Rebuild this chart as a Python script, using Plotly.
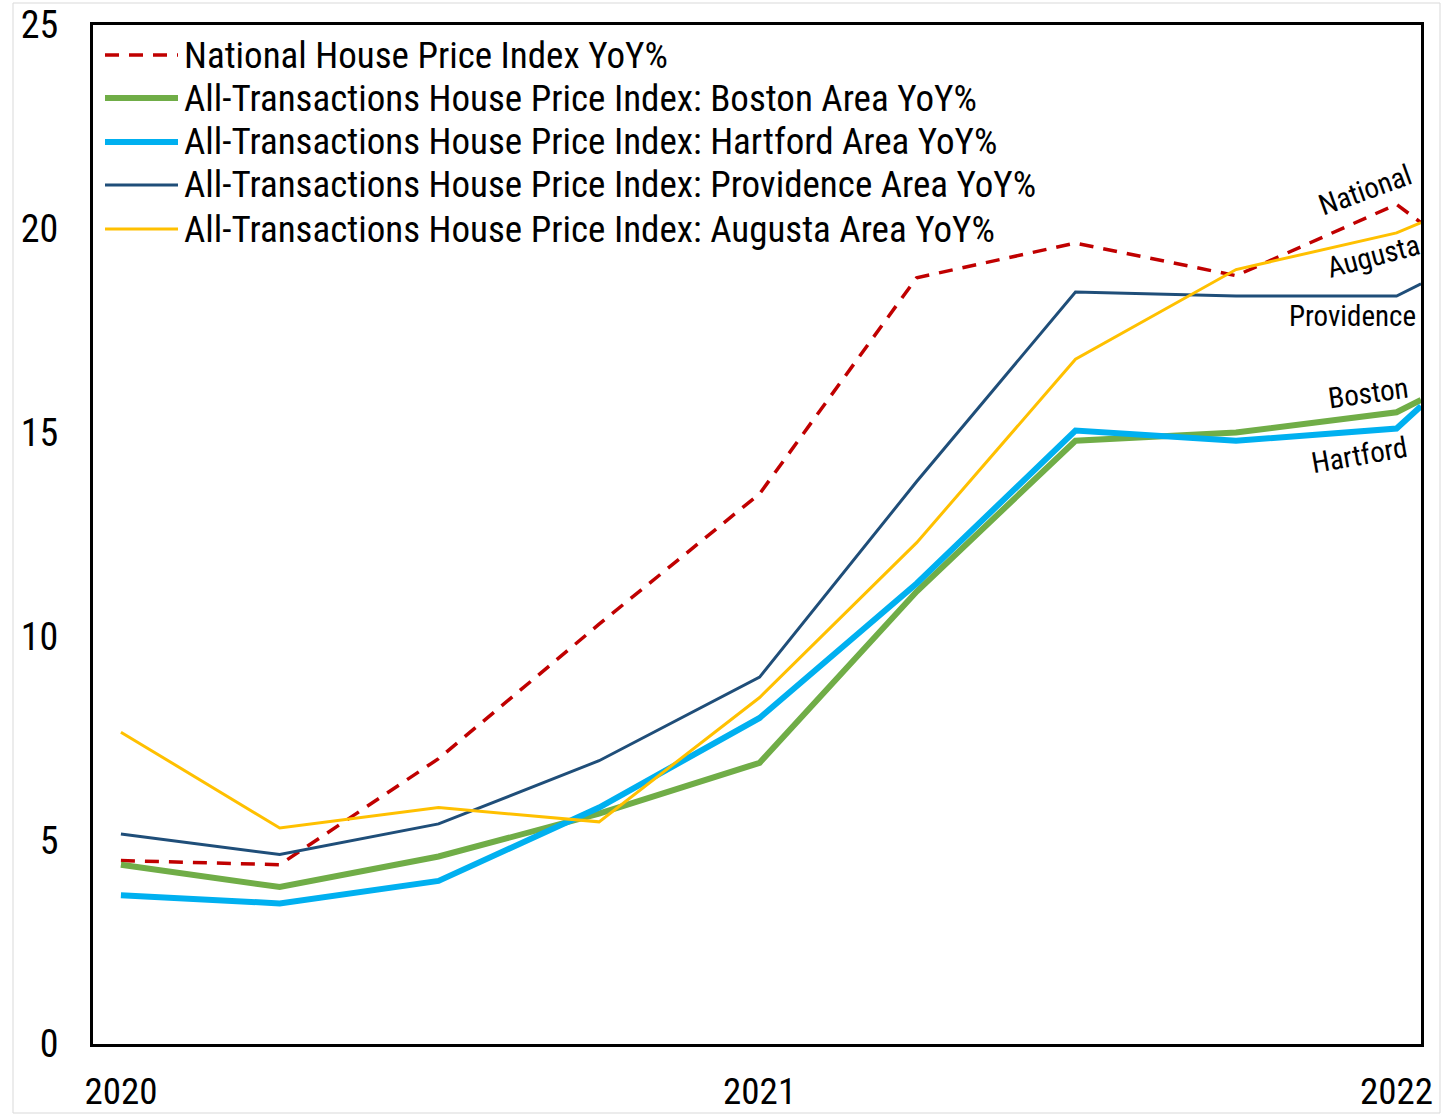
import plotly.graph_objects as go

# ---- data ----
dates = ["2020-01-01", "2020-04-01", "2020-07-01", "2020-10-01", "2021-01-01",
         "2021-04-01", "2021-07-01", "2021-10-01", "2022-01-01", "2022-01-15"]
national = [4.5, 4.4, 7.0, 10.3, 13.5, 18.8, 19.65, 18.85, 20.6, 20.15]
boston = [4.4, 3.85, 4.6, 5.65, 6.9, 11.1, 14.8, 15.0, 15.5, 15.8]
hartford = [3.65, 3.45, 4.0, 5.8, 8.0, 11.3, 15.05, 14.8, 15.1, 15.65]
providence = [5.15, 4.65, 5.4, 6.95, 9.0, 13.8, 18.45, 18.35, 18.35, 18.65]
augusta = [7.65, 5.3, 5.8, 5.45, 8.5, 12.3, 16.8, 19.0, 19.9, 20.15]

series_names = [
    "National House Price Index YoY%",
    "All-Transactions House Price Index: Boston Area YoY%",
    "All-Transactions House Price Index: Hartford Area YoY%",
    "All-Transactions House Price Index: Providence Area YoY%",
    "All-Transactions House Price Index: Augusta Area YoY%",
]
series_values = [national, boston, hartford, providence, augusta]
short_labels = ["National", "Augusta", "Providence", "Boston", "Hartford"]
label_x = ["2021-12-14", "2021-12-19", "2021-12-07", "2021-12-16", "2021-12-11"]
label_y = [20.95, 19.33, 17.86, 15.97, 14.45]
label_angle = [-20, -15, 0, -8, -10]

x_tick_vals = ["2020-01-01", "2021-01-01", "2022-01-01"]
x_tick_text = ["2020", "2021", "2022"]
y_tick_vals = [0, 5, 10, 15, 20, 25]

# ---- styles ----
colors = ["#C00000", "#70AD47", "#00B0F0", "#1F4E79", "#FFC000"]
widths = [3.5, 6, 6, 3, 3]
dashes = ["14px,10px", "solid", "solid", "solid", "solid"]
FONT = "Liberation Sans Narrow, Arial Narrow, Roboto Condensed, sans-serif"

W, H = 1441, 1116
plot_top, plot_bottom, plot_left, plot_right = 25, 1044, 93, 1421
ph = plot_bottom - plot_top
pw = plot_right - plot_left

fig = go.Figure()
for name, vals, c, w, d in zip(series_names, series_values, colors, widths, dashes):
    fig.add_trace(go.Scatter(x=dates, y=vals, mode="lines", name=name,
                             line=dict(color=c, width=w, dash=d),
                             showlegend=False))

# custom legend (line samples + text) inside top-left of plot area
legend_rows_px = [55, 98, 142, 185, 229]
shapes = []
annotations = []
for i, name in enumerate(series_names):
    yp = (plot_bottom - legend_rows_px[i]) / ph
    shapes.append(dict(type="line", xref="paper", yref="paper",
                       x0=(105 - plot_left) / pw, x1=(178 - plot_left) / pw,
                       y0=yp, y1=yp,
                       line=dict(color=colors[i], width=widths[i], dash=dashes[i])))
    annotations.append(dict(xref="paper", yref="paper", x=(182 - plot_left) / pw, y=yp,
                            xanchor="left", yanchor="middle", text=name, showarrow=False,
                            font=dict(family=FONT, size=37, color="#000000")))

# series end labels
for t, lx, ly, a in zip(short_labels, label_x, label_y, label_angle):
    annotations.append(dict(x=lx, y=ly, xref="x", yref="y", text=t, showarrow=False,
                            textangle=a, font=dict(family=FONT, size=29, color="#000000")))

# light gray outer border
shapes.append(dict(type="rect", xref="paper", yref="paper",
                   x0=(13 - plot_left) / pw, x1=(1440 - plot_left) / pw,
                   y0=-(1113 - plot_bottom) / ph, y1=1 + (plot_top - 3) / ph,
                   line=dict(color="#D9D9D9", width=1), layer="below"))

fig.update_layout(
    width=W, height=H,
    margin=dict(l=plot_left, r=W - plot_right, t=plot_top, b=H - plot_bottom),
    paper_bgcolor="white", plot_bgcolor="white",
    font=dict(family=FONT, size=38, color="#000000"),
    shapes=shapes, annotations=annotations,
    xaxis=dict(range=["2019-12-16", "2022-01-15"], tickvals=x_tick_vals, ticktext=x_tick_text,
               showgrid=False, zeroline=False, showline=True, linecolor="black", linewidth=3,
               mirror=True, ticks="", ticklabelstandoff=13, automargin=False,
               ticklabeloverflow="allow",
               tickfont=dict(family=FONT, size=37, color="#000000")),
    yaxis=dict(range=[0, 25], tickvals=y_tick_vals, showgrid=False, zeroline=False,
               showline=True, linecolor="black", linewidth=3, mirror=True, ticks="",
               ticklabelstandoff=24, automargin=False, ticklabeloverflow="allow",
               tickfont=dict(family=FONT, size=38, color="#000000")),
)

fig.write_html("out.html", config={"displayModeBar": False},
               post_script="document.body.style.margin='0';")
